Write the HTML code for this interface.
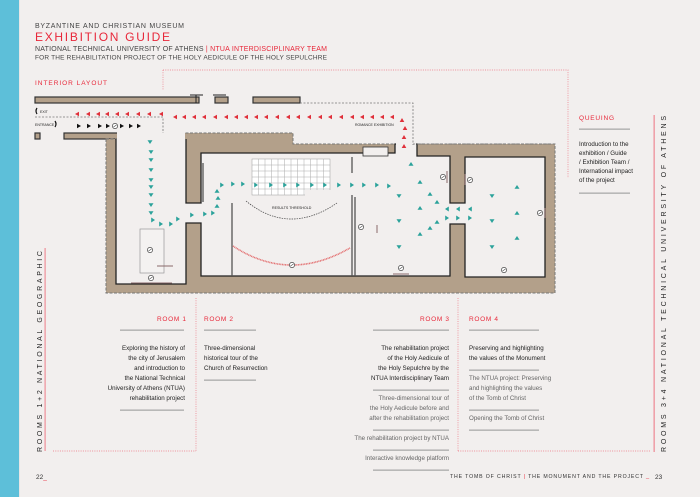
<!DOCTYPE html>
<html><head><meta charset="utf-8"><style>
html,body{margin:0;padding:0;background:#f2efee;}
svg{display:block}
text{font-family:"Liberation Sans",sans-serif;}
.n{font-family:"Liberation Sans Narrow","Liberation Sans",sans-serif;font-size:6.2px;fill:#222;}
.g{fill:#666;}
</style></head><body>
<svg width="700" height="497" viewBox="0 0 700 497" xmlns="http://www.w3.org/2000/svg">
<defs>
<polygon id="tl" points="-2,0 2,-2.2 2,2.2" fill="#e0303a"/>
<polygon id="tr" points="2,0 -2,-2.2 -2,2.2" fill="#111"/>
<polygon id="tu" points="0,-2 -2.3,2 2.3,2" fill="#e0303a"/>
<polygon id="cd" points="0,2 -2.5,-1.8 2.5,-1.8" fill="#2aa29a"/>
<polygon id="cu" points="0,-2 -2.5,1.8 2.5,1.8" fill="#2aa29a"/>
<polygon id="cr" points="2,0 -1.8,-2.5 -1.8,2.5" fill="#2aa29a"/>
<polygon id="cl" points="-2,0 1.8,-2.5 1.8,2.5" fill="#2aa29a"/>
<g id="mk"><circle r="2.6" fill="#fff" stroke="#444" stroke-width="0.7"/><line x1="-1.5" y1="1" x2="1.5" y2="-1" stroke="#444" stroke-width="0.6"/></g>
</defs>
<rect x="0" y="0" width="19" height="497" fill="#5dbfd9"/>
<rect x="19" y="0" width="1" height="497" fill="#e6e6e6"/>

<text x="35" y="28" font-size="7" fill="#444" textLength="149" lengthAdjust="spacing">BYZANTINE AND CHRISTIAN MUSEUM</text>
<text x="35" y="41" font-size="12" fill="#e8283a" textLength="135" lengthAdjust="spacing">EXHIBITION GUIDE</text>
<text x="35" y="51" font-size="7" fill="#444" textLength="292" lengthAdjust="spacing">NATIONAL TECHNICAL UNIVERSITY OF ATHENS <tspan fill="#e8283a">| NTUA INTERDISCIPLINARY TEAM</tspan></text>
<text x="35" y="59.5" font-size="6.5" fill="#444" textLength="292" lengthAdjust="spacing">FOR THE REHABILITATION PROJECT OF THE HOLY AEDICULE OF THE HOLY SEPULCHRE</text>
<text x="35" y="85" font-size="6.5" fill="#e8283a" textLength="72" lengthAdjust="spacing">INTERIOR LAYOUT</text>

<g stroke="#ee8f99" stroke-width="0.9" stroke-dasharray="1,1.3" fill="none">
<path d="M163,70 H568 V178"/>
<path d="M163,70 V90"/>
<path d="M53,451 H196 M458,451 H650"/>
<path d="M196,298 V451 M458,298 V451"/>
</g>

<g stroke="#333" stroke-width="1.2">
<rect x="35" y="97" width="164" height="6" fill="#b3a08a"/>
<rect x="215" y="97" width="13" height="6" fill="#b3a08a"/>
<rect x="253" y="97" width="47" height="6" fill="#b3a08a"/>
<rect x="64" y="133" width="73" height="6" fill="#b3a08a"/>
<rect x="35" y="133" width="5" height="6" fill="#b3a08a"/>
<path d="M106,139 H163 V133 H293 V144 H555 V293 H106 Z" fill="#b3a08a" stroke="#777" stroke-width="1" stroke-dasharray="3,1.5"/>
</g>
<path d="M190,95 H203 M196,95 V103 M213,95 H226" stroke="#222" stroke-width="1"/>
<g fill="#f2efee" stroke="#222" stroke-width="1.3">
<path d="M116,139 V284 H186 V223 H201 V276 H450 V224 H465 V277 H545 V157 H465 V203 H450 V156 H417 V144 H395 V153 H201 V203 H186 V139" />
</g>
<rect x="117" y="132" width="68" height="12" fill="#f2efee"/>
<rect x="137" y="132" width="26" height="8" fill="#f2efee"/>
<rect x="396" y="142" width="20" height="14" fill="#f2efee"/>
<rect x="187" y="204" width="13" height="18" fill="#f2efee"/>
<rect x="449" y="204" width="17" height="19" fill="#f2efee"/>
<rect x="363" y="147" width="25" height="9" fill="#f2efee" stroke="#333" stroke-width="0.8"/>
<g stroke="#777" stroke-width="0.8" stroke-dasharray="2,1.5" fill="none">
<path d="M35,117 H163 V133"/>
<path d="M300,103 H413 V145"/>
<path d="M413,144 H555"/>
</g>
<path d="M37,108 q-2,3 0,6 M55,121 q2,3 0,6" stroke="#111" stroke-width="1.2" fill="none"/>
<text x="40" y="113" font-size="3.5" fill="#222">EXIT</text>
<text x="35" y="126" font-size="3.5" fill="#222">ENTRANCE</text>
<text x="355" y="126" font-size="3.5" fill="#222">ROMANCE EXHIBITION</text>

<g stroke="#555" stroke-width="1.3" fill="none">
<path d="M232,203 V276"/>
<path d="M352,195 V276 M355,197 V276"/>
<path d="M352,157 V173"/>
<path d="M203,163 V202"/>
</g>
<rect x="252" y="159" width="78" height="36" fill="#fff" stroke="#999" stroke-width="0.5"/>
<g stroke="#aaa" stroke-width="0.5">
<path d="M252,165 H330 M252,171 H330 M252,177 H330 M252,183 H330 M252,189 H330"/>
<path d="M258.5,159 V195 M265,159 V195 M271.5,159 V195 M278,159 V195 M284.5,159 V195 M291,159 V195 M297.5,159 V195 M304,159 V195 M310.5,159 V195 M317,159 V195 M323.5,159 V195"/>
</g>
<rect x="305" y="190" width="26" height="6" fill="#f2efee"/>
<path d="M246,201 Q289,236 337,203" stroke="#444" stroke-width="0.7" stroke-dasharray="1.5,1" fill="none"/>
<path d="M233,246 Q289,283 350,248" stroke="#e36f70" stroke-width="1.6" stroke-dasharray="1,0.6" fill="none"/>
<text x="272" y="209" font-size="3.6" fill="#222">RESULTS THRESHOLD</text>
<rect x="140" y="229" width="24" height="44" fill="#f4f2f1" stroke="#999" stroke-width="0.7"/>
<path d="M131,283 H172 M393,274 H409 M377,225 V233 M465,174 V185 M447,171 V183 M545,208 V218 M157,266 H173" stroke="#8a6a6a" stroke-width="1"/>

<use href="#mk" x="115" y="126"/><use href="#mk" x="150" y="250"/><use href="#mk" x="151" y="278"/>
<use href="#mk" x="292" y="265"/><use href="#mk" x="401" y="268"/><use href="#mk" x="504" y="270"/>
<use href="#mk" x="361" y="227"/><use href="#mk" x="443" y="177"/><use href="#mk" x="470" y="180"/>
<use href="#mk" x="540" y="213"/>

<g>
<use href="#tl" x="77" y="114"/><use href="#tl" x="88" y="114"/><use href="#tl" x="98" y="114"/><use href="#tl" x="107" y="114"/><use href="#tl" x="117" y="114"/><use href="#tl" x="127" y="114"/><use href="#tl" x="138" y="114"/><use href="#tl" x="149" y="114"/><use href="#tl" x="161" y="114"/>
<use href="#tl" x="175" y="117"/><use href="#tl" x="184" y="117"/><use href="#tl" x="194" y="117"/><use href="#tl" x="204" y="117"/><use href="#tl" x="215" y="117"/><use href="#tl" x="226" y="117"/><use href="#tl" x="236" y="117"/><use href="#tl" x="246" y="117"/><use href="#tl" x="256" y="117"/><use href="#tl" x="266" y="117"/><use href="#tl" x="277" y="117"/><use href="#tl" x="288" y="117"/><use href="#tl" x="298" y="117"/><use href="#tl" x="309" y="117"/><use href="#tl" x="320" y="117"/><use href="#tl" x="330" y="117"/><use href="#tl" x="341" y="117"/><use href="#tl" x="352" y="117"/><use href="#tl" x="362" y="117"/><use href="#tl" x="372" y="117"/><use href="#tl" x="382" y="117"/><use href="#tl" x="392" y="117"/>
<use href="#tu" x="402" y="120"/><use href="#tu" x="405" y="128"/><use href="#tu" x="404" y="137"/><use href="#tu" x="404" y="146"/>
<use href="#tr" x="79" y="126"/><use href="#tr" x="89" y="126"/><use href="#tr" x="100" y="126"/><use href="#tr" x="108" y="126"/><use href="#tr" x="122" y="126"/><use href="#tr" x="131" y="126"/><use href="#tr" x="139" y="126"/>
</g>
<g>
<use href="#cd" x="150" y="142"/><use href="#cd" x="151" y="152"/><use href="#cd" x="151" y="160"/><use href="#cd" x="151" y="170"/><use href="#cd" x="151" y="180"/><use href="#cd" x="151" y="187"/><use href="#cd" x="151" y="195"/><use href="#cd" x="151" y="205"/><use href="#cd" x="151" y="213"/>
<use href="#cr" x="153" y="220"/><use href="#cr" x="161" y="224"/><use href="#cr" x="171" y="224"/><use href="#cr" x="178" y="219"/><use href="#cr" x="192" y="215"/><use href="#cr" x="205" y="214"/><use href="#cr" x="213" y="213"/>
<use href="#cu" x="217" y="206"/><use href="#cu" x="218" y="198"/><use href="#cu" x="217" y="191"/>
<use href="#cr" x="222" y="185"/><use href="#cr" x="233" y="184"/><use href="#cr" x="243" y="184"/><use href="#cr" x="256" y="185"/><use href="#cr" x="271" y="185"/><use href="#cr" x="285" y="185"/><use href="#cr" x="298" y="185"/><use href="#cr" x="312" y="185"/><use href="#cr" x="325" y="185"/><use href="#cr" x="339" y="185"/><use href="#cr" x="352" y="185"/><use href="#cr" x="364" y="185"/><use href="#cr" x="377" y="185"/><use href="#cr" x="389" y="186"/>
<use href="#cu" x="411" y="164"/>
<use href="#cd" x="399" y="196"/><use href="#cd" x="399" y="221"/><use href="#cd" x="399" y="247"/>
<use href="#cu" x="420" y="182"/><use href="#cu" x="420" y="208"/><use href="#cu" x="420" y="234"/>
<use href="#cu" x="430" y="194"/><use href="#cu" x="437" y="202"/><use href="#cu" x="437" y="222"/><use href="#cu" x="430" y="228"/>
<use href="#cl" x="447" y="209"/><use href="#cl" x="458" y="209"/><use href="#cl" x="470" y="209"/>
<use href="#cr" x="447" y="218"/><use href="#cr" x="458" y="218"/><use href="#cr" x="470" y="218"/>
<use href="#cd" x="492" y="196"/><use href="#cd" x="492" y="221"/><use href="#cd" x="492" y="247"/>
<use href="#cu" x="517" y="187"/><use href="#cu" x="517" y="213"/><use href="#cu" x="517" y="238"/>
</g>

<text x="579" y="120" font-size="6.5" fill="#e8283a" textLength="35" lengthAdjust="spacing">QUEUING</text>
<rect x="579" y="128.5" width="51" height="1.3" fill="#aaa"/>
<text class="n" x="579" y="146">Introduction to the</text>
<text class="n" x="579" y="155">exhibition / Guide</text>
<text class="n" x="579" y="164">/ Exhibition Team /</text>
<text class="n" x="579" y="173">International impact</text>
<text class="n" x="579" y="182">of the project</text>
<rect x="579" y="192.5" width="51" height="1.3" fill="#aaa"/>

<rect x="653.5" y="115" width="1.3" height="337" fill="#ee8f99"/>
<text transform="translate(666,452) rotate(-90)" font-size="7" fill="#222" textLength="336" lengthAdjust="spacing">ROOMS 3+4 NATIONAL TECHNICAL UNIVERSITY OF ATHENS</text>
<rect x="44.5" y="248" width="1.2" height="203" fill="#ee8f99"/>
<text transform="translate(42,452) rotate(-90)" font-size="7" fill="#222" textLength="201" lengthAdjust="spacing">ROOMS 1+2 NATIONAL GEOGRAPHIC</text>

<g font-size="6.5" fill="#e8283a">
<text x="157" y="321" textLength="29" lengthAdjust="spacing">ROOM 1</text>
<text x="204" y="321" textLength="29" lengthAdjust="spacing">ROOM 2</text>
<text x="420" y="321" textLength="29" lengthAdjust="spacing">ROOM 3</text>
<text x="469" y="321" textLength="29" lengthAdjust="spacing">ROOM 4</text>
</g>
<g fill="#aaa">
<rect x="120" y="329.5" width="64" height="1.3"/><rect x="204" y="329.5" width="52" height="1.3"/>
<rect x="373" y="329.5" width="76" height="1.3"/><rect x="469" y="329.5" width="70" height="1.3"/>
<rect x="120" y="409.5" width="64" height="1.3"/><rect x="204" y="379.5" width="52" height="1.3"/>
<rect x="373" y="389.5" width="76" height="1.3"/><rect x="373" y="429.5" width="76" height="1.3"/>
<rect x="373" y="449.5" width="76" height="1.3"/><rect x="373" y="469.5" width="76" height="1.3"/>
<rect x="469" y="369.5" width="70" height="1.3"/><rect x="469" y="409.5" width="70" height="1.3"/>
<rect x="469" y="429.5" width="70" height="1.3"/>
</g>
<g text-anchor="end">
<text class="n" x="185" y="350">Exploring the history of</text>
<text class="n" x="185" y="360">the city of Jerusalem</text>
<text class="n" x="185" y="370">and introduction to</text>
<text class="n" x="185" y="380">the National Technical</text>
<text class="n" x="185" y="390">University of Athens (NTUA)</text>
<text class="n" x="185" y="400">rehabilitation project</text>
<text class="n" x="449" y="350">The rehabilitation project</text>
<text class="n" x="449" y="360">of the Holy Aedicule of</text>
<text class="n" x="449" y="370">the Holy Sepulchre by the</text>
<text class="n" x="449" y="380">NTUA Interdisciplinary Team</text>
<text class="n g" x="449" y="400">Three-dimensional tour of</text>
<text class="n g" x="449" y="410">the Holy Aedicule before and</text>
<text class="n g" x="449" y="420">after the rehabilitation project</text>
<text class="n g" x="449" y="440">The rehabilitation project by NTUA</text>
<text class="n g" x="449" y="460">Interactive knowledge platform</text>
</g>
<text class="n" x="204" y="350">Three-dimensional</text>
<text class="n" x="204" y="360">historical tour of the</text>
<text class="n" x="204" y="370">Church of Resurrection</text>
<text class="n" x="469" y="350">Preserving and highlighting</text>
<text class="n" x="469" y="360">the values of the Monument</text>
<text class="n g" x="469" y="380">The NTUA project: Preserving</text>
<text class="n g" x="469" y="390">and highlighting the values</text>
<text class="n g" x="469" y="400">of the Tomb of Christ</text>
<text class="n g" x="469" y="420">Opening the Tomb of Christ</text>

<text x="36" y="479" font-size="6.5" fill="#333">22<tspan fill="#e8283a">_</tspan></text>
<text x="450" y="478" font-size="5.2" fill="#333" textLength="193" lengthAdjust="spacing">THE TOMB OF CHRIST <tspan fill="#e8283a">|</tspan> THE MONUMENT AND THE PROJECT</text>
<text x="646" y="478" font-size="5.6" fill="#e8283a">_</text>
<text x="655" y="479" font-size="6.5" fill="#333">23</text>
</svg>
</body></html>
